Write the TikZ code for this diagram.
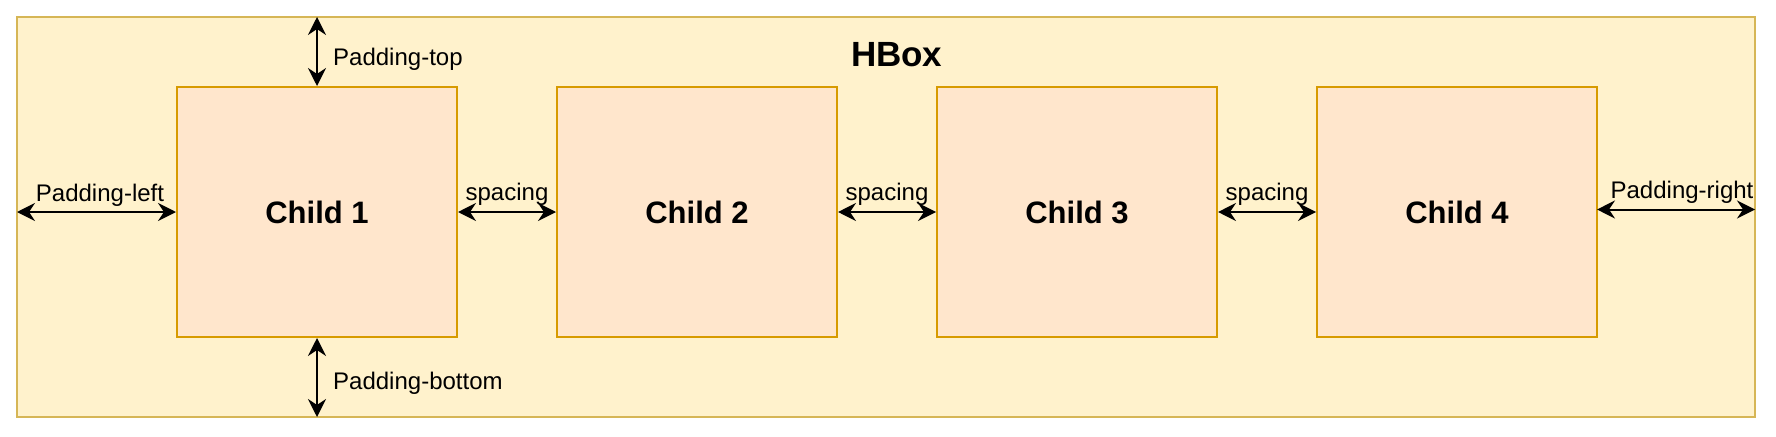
\documentclass[tikz,border=0pt]{standalone}
\usepackage{fontspec}
\setmainfont{Liberation Sans}
\usetikzlibrary{arrows.meta}
\definecolor{outerfill}{HTML}{FFF2CC}
\definecolor{outerline}{HTML}{D6B656}
\definecolor{childfill}{HTML}{FFE6CC}
\definecolor{childline}{HTML}{D79B00}
\tikzset{
  outerbox/.style={draw=outerline, fill=outerfill, line width=1.5pt, minimum width=1738pt, minimum height=400pt, inner sep=0pt},
  childbox/.style={draw=childline, fill=childfill, line width=2pt, minimum width=280pt, minimum height=250pt, inner sep=0pt,
    font=\fontsize{31}{36}\selectfont\bfseries},
  dimarrow/.style={line width=2pt, {Stealth[length=18pt,width=18pt,inset=6pt]}-{Stealth[length=18pt,width=18pt,inset=6pt]}},
  lbl/.style={inner sep=0pt, font=\fontsize{24}{28}\selectfont},
  titlelbl/.style={inner sep=0pt, font=\fontsize{35}{40}\selectfont\bfseries}
}
\begin{document}
\begin{tikzpicture}[x=1pt,y=-1pt]
\useasboundingbox (0,0) rectangle (1776,436);
\node[outerbox] (hbox) at (886,217) {};
\node[titlelbl, anchor=base] (title) at (896.7,66.7) {HBox};
\node[childbox] (c1) at (317,212) {Child 1};
\node[childbox] (c2) at (697,212) {Child 2};
\node[childbox] (c3) at (1077,212) {Child 3};
\node[childbox] (c4) at (1457,212) {Child 4};
\coordinate (pl) at (17,212);
\coordinate (pr0) at (1597,209.5);
\coordinate (pr) at (1755,209.5);
\coordinate (pt) at (317,17);
\coordinate (pb) at (317,417);
\draw[dimarrow] (pl) -- (c1.west);
\draw[dimarrow] (c1.east) -- (c2.west);
\draw[dimarrow] (c2.east) -- (c3.west);
\draw[dimarrow] (c3.east) -- (c4.west);
\draw[dimarrow] (pr0) -- (pr);
\draw[dimarrow] (pt) -- (c1.north);
\draw[dimarrow] (c1.south) -- (pb);
\node[lbl, anchor=base] (lpl) at (100,201) {Padding-left};
\node[lbl, anchor=base] (ls1) at (507,200) {spacing};
\node[lbl, anchor=base] (ls2) at (887,200) {spacing};
\node[lbl, anchor=base] (ls3) at (1267,200) {spacing};
\node[lbl, anchor=base] (lpr) at (1682,198) {Padding-right};
\node[lbl, anchor=base west] (lpt) at (333,65) {Padding-top};
\node[lbl, anchor=base west] (lpb) at (333,389) {Padding-bottom};
\end{tikzpicture}
\end{document}
